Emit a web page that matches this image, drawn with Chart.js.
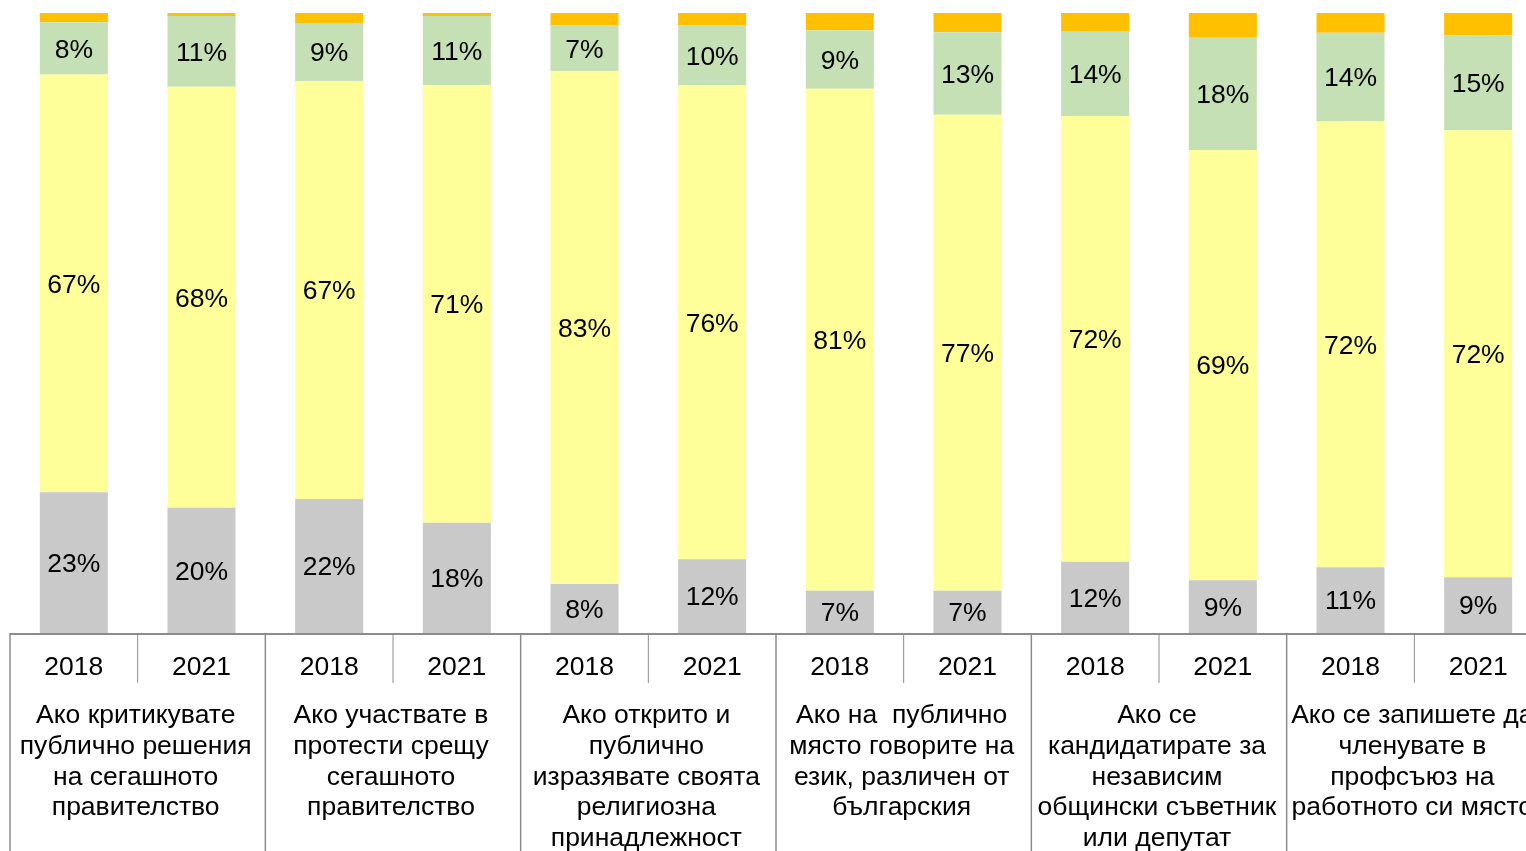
<!DOCTYPE html>
<html>
<head>
<meta charset="utf-8">
<script src="https://cdn.jsdelivr.net/npm/chart.js@4"></script>
<style>
    html, body { margin: 0; padding: 0; background: #fff; overflow: hidden; }
    #wrap { position: relative; width: 1560px; height: 880px; }
</style>
</head>
<body>
<div id="wrap"><canvas id="chart"></canvas></div>
<script>
// ===== DATA =====
const years = ['2018', '2021', '2018', '2021', '2018', '2021', '2018', '2021', '2018', '2021', '2018', '2021'];

const groupLabels = [
    ['Ако критикувате', 'публично решения', 'на сегашното', 'правителство'],
    ['Ако участвате в', 'протести срещу', 'сегашното', 'правителство'],
    ['Ако открито и', 'публично', 'изразявате своята', 'религиозна', 'принадлежност'],
    ['Ако на  публично', 'място говорите на', 'език, различен от', 'българския'],
    ['Ако се', 'кандидатирате за', 'независим', 'общински съветник', 'или депутат'],
    ['Ако се запишете да', 'членувате в', 'профсъюз на', 'работното си място']
];

const grayValues   = [22.7, 20.2, 21.6, 17.8, 7.9, 11.9, 6.8, 6.8, 11.5, 8.5, 10.6, 9.0];
const yellowValues = [67.4, 67.9, 67.4, 70.6, 82.7, 76.4, 81.0, 76.8, 71.9, 69.4, 71.9, 72.1];
const greenValues  = [8.4, 11.4, 9.4, 11.1, 7.4, 9.7, 9.4, 13.3, 13.7, 18.1, 14.3, 15.3];
const orangeValues = [1.5, 0.5, 1.6, 0.5, 2.0, 2.0, 2.8, 3.1, 2.9, 4.0, 3.2, 3.6];

const FONT = '"Liberation Sans", Arial, sans-serif';
const AXIS_COLOR = '#8c8c8c';

// ===== PLUGINS =====

/** Percent labels centred in each labelled segment */
const segmentLabels = {
    id: 'segmentLabels',
    afterDatasetsDraw(chart) {
        const ctx = chart.ctx;
        ctx.save();
        ctx.font = `26.5px ${FONT}`;
        ctx.fillStyle = '#000';
        ctx.textAlign = 'center';
        ctx.textBaseline = 'middle';
        chart.data.datasets.forEach((ds, di) => {
            if (!ds.showLabel) return;
            chart.getDatasetMeta(di).data.forEach((bar, i) => {
                const y = (bar.y + bar.base) / 2;
                ctx.fillText(Math.round(ds.data[i]) + '%', bar.x, y + 2);
            });
        });
        ctx.restore();
    }
};

/** Table-like category axis: lines and two-level labels */
const groupAxis = {
    id: 'groupAxis',
    afterDraw(chart) {
        const ctx = chart.ctx;
        const x = chart.scales.x;
        const bottom = chart.chartArea.bottom;
        const step = x.getPixelForValue(1) - x.getPixelForValue(0);
        ctx.save();
        ctx.strokeStyle = AXIS_COLOR;
        ctx.lineWidth = 2;

        ctx.beginPath();
        ctx.moveTo(x.getPixelForValue(0) - step / 2, bottom + 1);
        ctx.lineTo(chart.width, bottom + 1);
        ctx.stroke();

        ctx.lineWidth = 1.5;
        for (let g = 0; g <= groupLabels.length; g++) {
            const gx = x.getPixelForValue(g * 2) - step / 2;
            ctx.beginPath();
            ctx.moveTo(gx, bottom);
            ctx.lineTo(gx, chart.height);
            ctx.stroke();
        }

        ctx.lineWidth = 1;
        for (let g = 0; g < groupLabels.length; g++) {
            const mx = x.getPixelForValue(g * 2) + step / 2;
            ctx.beginPath();
            ctx.moveTo(mx, bottom);
            ctx.lineTo(mx, bottom + 50);
            ctx.stroke();
        }

        ctx.font = `26.5px ${FONT}`;
        ctx.fillStyle = '#000';
        ctx.textAlign = 'center';
        ctx.textBaseline = 'middle';
        groupLabels.forEach((lines, g) => {
            const cx = (x.getPixelForValue(g * 2) + x.getPixelForValue(g * 2 + 1)) / 2 - 2;
            lines.forEach((line, li) => {
                ctx.fillText(line, cx, bottom + 83 + li * 30.6);
            });
        });
        ctx.restore();
    }
};

// ===== CHART =====
function dataset(label, data, color, showLabel) {
    return {
        label, data, showLabel,
        backgroundColor: color,
        borderWidth: 0,
        categoryPercentage: 1,
        barPercentage: 0.533
    };
}

new Chart(document.getElementById('chart'), {
    type: 'bar',
    data: {
        labels: years,
        datasets: [
            dataset('gray', grayValues, '#c9c9c9', true),
            dataset('yellow', yellowValues, '#ffff99', true),
            dataset('green', greenValues, '#c5e0b4', true),
            dataset('orange', orangeValues, '#ffc000', false)
        ]
    },
    options: {
        responsive: true,
        maintainAspectRatio: false,
        animation: false,
        layout: { padding: { left: 10, right: 18, top: 13, bottom: 0 } },
        plugins: { legend: { display: false }, tooltip: { enabled: false } },
        scales: {
            x: {
                stacked: true,
                grid: { display: false, drawTicks: false },
                border: { display: false },
                ticks: { color: '#000', font: { family: FONT, size: 26.5 }, padding: 19, maxRotation: 0, autoSkip: false },
                afterFit(scale) { scale.height = 247; }
            },
            y: {
                stacked: true,
                display: false,
                min: 0,
                max: 100
            }
        }
    },
    plugins: [segmentLabels, groupAxis]
});
</script>
</body>
</html>
